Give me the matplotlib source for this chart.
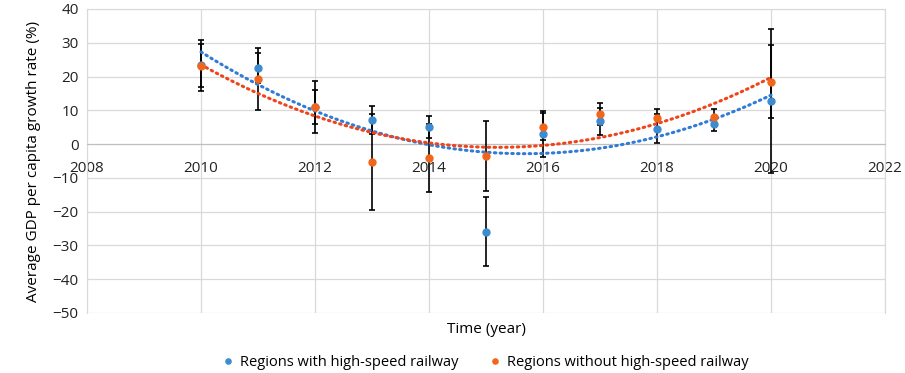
import matplotlib.pyplot as plt
import numpy as np

plt.rcParams['font.family'] = ['Open Sans', 'DejaVu Sans']

# data
years = [2010, 2011, 2012, 2013, 2014, 2015, 2016, 2017, 2018, 2019, 2020]
with_hsr = [23.3, 22.5, 10.9, 7.2, 5.0, -25.9, 3.0, 6.8, 4.6, 5.9, 12.8]
with_hsr_err = [7.6, 4.5, 7.7, 4.1, 3.3, 10.3, 6.9, 4.0, 4.4, 2.0, 21.3]
without_hsr = [23.2, 19.3, 11.1, -5.2, -4.1, -3.5, 5.1, 9.0, 7.7, 8.0, 18.5]
without_hsr_err = [6.4, 9.2, 5.0, 14.2, 10.1, 10.4, 4.0, 3.3, 2.8, 2.3, 10.7]

blue = '#3d8ccf'
orange = '#f2661c'
blue_trend = '#2f7bd6'
orange_trend = '#f0431a'

fig = plt.figure(figsize=(9.05, 3.73), dpi=100)
ax = fig.add_axes([87 / 905, 1 - 313 / 373, (885 - 87) / 905, (313 - 9) / 373])

# error bars (black) with points on top
ax.errorbar(years, with_hsr, yerr=with_hsr_err, fmt='none', ecolor='black',
            elinewidth=1.2, capsize=2.5, capthick=1.2, zorder=3)
ax.errorbar(years, without_hsr, yerr=without_hsr_err, fmt='none', ecolor='black',
            elinewidth=1.2, capsize=2.5, capthick=1.2, zorder=3)

# 2nd order polynomial trendlines like Excel
xs = np.linspace(years[0], years[-1], 200)
for vals, col in [(with_hsr, blue_trend), (without_hsr, orange_trend)]:
    coef = np.polyfit(years, vals, 2)
    ax.plot(xs, np.polyval(coef, xs), color=col, lw=2.2, ls=(0, (0.5, 1.4)),
            dash_capstyle='round', zorder=4)

ax.plot(years, with_hsr, 'o', color=blue, ms=5, zorder=5,
        label='Regions with high-speed railway')
ax.plot(years, without_hsr, 'o', color=orange, ms=5, zorder=6,
        label='Regions without high-speed railway')

ax.set_xlim(2008, 2022)
ax.set_ylim(-50, 40)
ax.set_xticks(range(2008, 2023, 2))
ax.set_yticks(range(-50, 41, 10))
ax.grid(True, color='#d9d9d9', lw=0.9)
ax.set_axisbelow(True)

for s in ['top', 'right', 'left']:
    ax.spines[s].set_color('#d9d9d9')
ax.spines['bottom'].set_position(('data', 0))
ax.spines['bottom'].set_color('#bfbfbf')
ax.tick_params(length=0, labelsize=11, colors='#222222', pad=6)
ax.tick_params(axis='x', pad=12)

ax.set_ylabel('Average GDP per capita growth rate (%)', fontsize=11, labelpad=8)
ax.text(0.5, -0.055, 'Time (year)', transform=ax.transAxes, ha='center',
        va='center', fontsize=11)

ax.legend(loc='upper center', bbox_to_anchor=(0.5, -0.095), ncol=2, frameon=False,
          fontsize=10.5, handlelength=0.6, handletextpad=0.5, columnspacing=2.2,
          markerscale=0.75)

fig.savefig('out.png', dpi=100)
